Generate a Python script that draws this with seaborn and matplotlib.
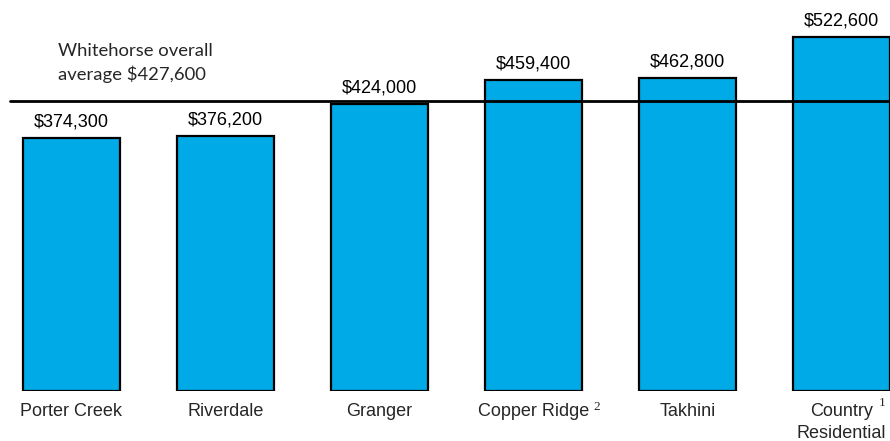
import matplotlib
matplotlib.use("Agg")
import matplotlib.pyplot as plt
import seaborn as sns
import pandas as pd

categories = ["Porter Creek", "Riverdale", "Granger", "Copper Ridge", "Takhini", "Country Residential"]
values = [374300, 376200, 424000, 459400, 462800, 522600]
value_labels = ["$374,300", "$376,200", "$424,000", "$459,400", "$462,800", "$522,600"]
average = 427600
average_label = "Whitehorse overall\naverage $427,600"
footnotes = {"Copper Ridge": "2", "Country Residential": "1"}

sns.set_theme(style="white")
plt.rcParams["font.family"] = ["Liberation Sans", "DejaVu Sans"]

df = pd.DataFrame({"cat": categories, "val": values})

fig = plt.figure(figsize=(8.9, 4.41), dpi=100)
ax = fig.add_axes([0, 50 / 441, 1, 391 / 441])
sns.barplot(data=df, x="cat", y="val", color="#00AAE7", saturation=1,
            edgecolor="black", linewidth=1.6, width=0.63, ax=ax)
for p in ax.patches:
    p.set_facecolor("#00AAE7")

ax.set_xlim(-0.463, 5.316)
ax.set_ylim(0, 577500)
ax.axhline(average, xmin=10 / 890, xmax=1, color="black", linewidth=2, zorder=5)
for s in ax.spines.values():
    s.set_visible(False)
ax.set_xticks([])
ax.set_yticks([])
ax.set_xlabel("")
ax.set_ylabel("")

for i, (v, lab) in enumerate(zip(values, value_labels)):
    ax.annotate(lab, xy=(i, v), xytext=(0, 16), textcoords="offset pixels",
                ha="center", va="center", fontsize=13, color="black", annotation_clip=False)

for i, c in enumerate(categories):
    if c == "Country Residential":
        ax.annotate("Country", xy=(i, 0), xycoords=("data", "axes fraction"), xytext=(0, -21),
                    textcoords="offset pixels", ha="center", va="center", fontsize=13)
        ax.annotate("Residential", xy=(i, 0), xycoords=("data", "axes fraction"), xytext=(0, -43),
                    textcoords="offset pixels", ha="center", va="center", fontsize=13)
        ax.annotate(footnotes[c], xy=(i, 0), xycoords=("data", "axes fraction"), xytext=(41, -12),
                    textcoords="offset pixels", ha="center", va="center", fontsize=9.5,
                    family="Liberation Serif")
    else:
        ax.annotate(c, xy=(i, 0), xycoords=("data", "axes fraction"), xytext=(0, -21),
                    textcoords="offset pixels", ha="center", va="center", fontsize=13)
        if c in footnotes:
            ax.annotate(footnotes[c], xy=(i, 0), xycoords=("data", "axes fraction"), xytext=(63, -16),
                        textcoords="offset pixels", ha="center", va="center", fontsize=9.5,
                        family="Liberation Serif")

fig.text(58 / 890, 1 - 63 / 441, average_label, ha="left", va="center", fontsize=13.3,
         family=["Lato", "DejaVu Sans"], linespacing=1.5)

fig.savefig("out.png", dpi=100)
